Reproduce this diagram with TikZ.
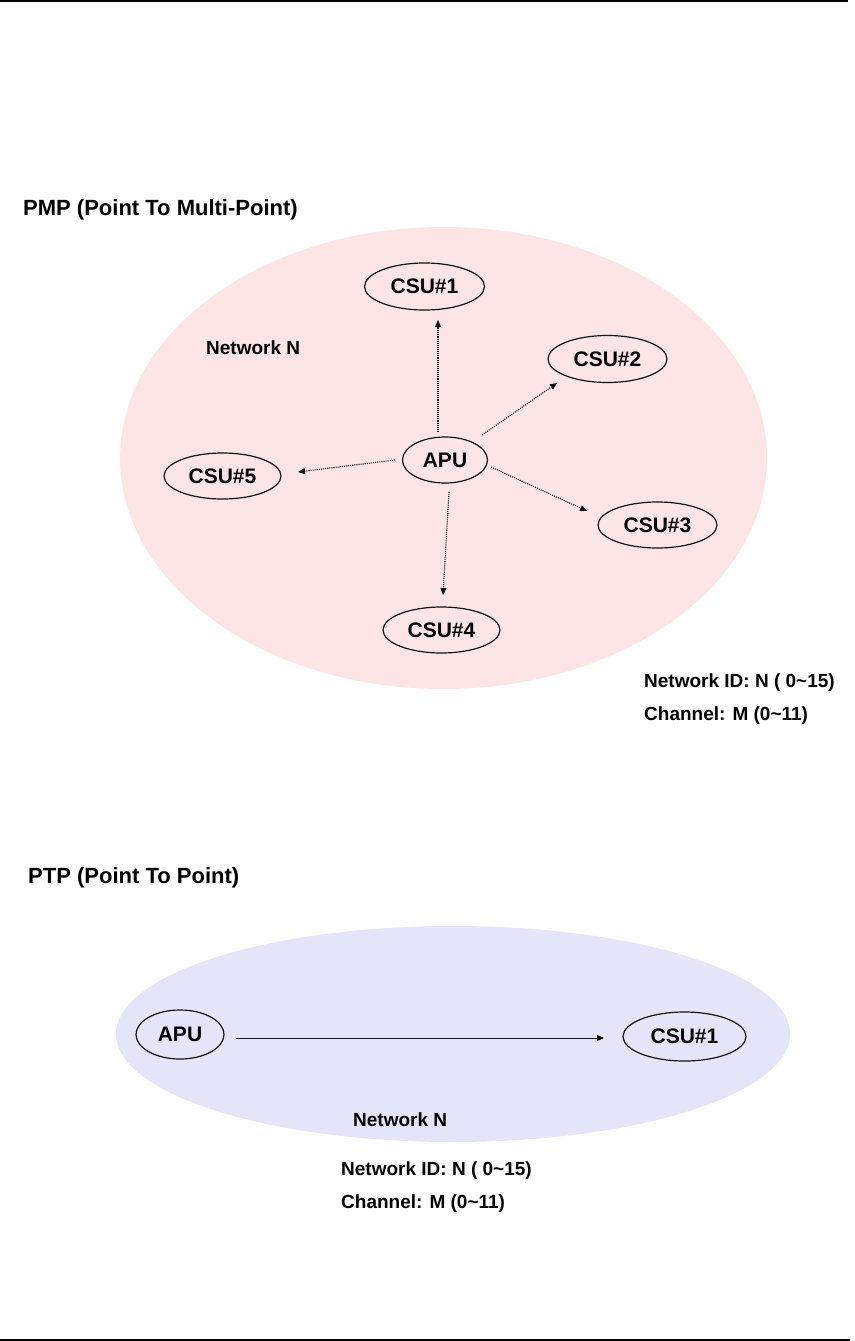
\documentclass[tikz,border=0pt]{standalone}
\usepackage{fontspec}
\setmainfont{Liberation Sans}
\usetikzlibrary{shapes.geometric,arrows.meta}
\definecolor{pinkfill}{RGB}{253,229,229}
\definecolor{bluefill}{RGB}{229,229,250}
\definecolor{inkc}{RGB}{20,20,20}
\tikzset{
  unit/.style={ellipse,draw=inkc,line width=1.2pt,inner sep=0pt,font=\bfseries\fontsize{21}{24}\selectfont},
  big/.style={font=\bfseries\fontsize{22}{26}\selectfont,anchor=base west,inner sep=0pt},
  small/.style={font=\bfseries\fontsize{19}{22}\selectfont,anchor=base west,inner sep=0pt},
  darr/.style={densely dotted,line width=1.1pt,draw=inkc,-{Triangle[length=7pt,width=6pt]}},
  sarr/.style={line width=1pt,draw=inkc,-{Triangle[length=7pt,width=6pt]}},
  rule/.style={line width=2pt,draw=black}
}
\begin{document}
\begin{tikzpicture}[x=1pt,y=-1pt]
\useasboundingbox (0,0) rectangle (854,1341);
% page rules
\coordinate (tl) at (0,1);
\coordinate (tr) at (848,1);
\coordinate (bl) at (0,1340);
\coordinate (br) at (850,1340);
\draw[rule] (tl) -- (tr);
\draw[rule] (bl) -- (br);

% ---------- PMP ----------
\node[big] (pmptitle) at (23,215) {PMP (Point To Multi-Point)};
\fill[pinkfill] (443.5,458) ellipse [x radius=323.5pt, y radius=231pt];
\node[small] (pmpnet) at (206,354) {Network N};

\node[unit,minimum width=120pt,minimum height=47pt] (csu1) at (424.5,286.5) {CSU\#1};
\node[unit,minimum width=119pt,minimum height=47pt] (csu2) at (607.5,359) {CSU\#2};
\node[unit,minimum width=119pt,minimum height=46pt] (csu3) at (657.5,525) {CSU\#3};
\node[unit,minimum width=117pt,minimum height=46pt] (csu4) at (441.5,630) {CSU\#4};
\node[unit,minimum width=117pt,minimum height=46pt] (csu5) at (222.5,476) {CSU\#5};
\node[unit,minimum width=85pt,minimum height=46pt] (apu) at (445,460) {APU};

\draw[darr] ([shift={(-7pt,28pt)}]apu.center) -- ([shift={(13.5pt,-33.5pt)}]csu1.center);
\draw[darr] ([shift={(37pt,25pt)}]apu.center) -- ([shift={(-50.5pt,-24pt)}]csu2.center);
\draw[darr] ([shift={(46pt,-7pt)}]apu.center) -- ([shift={(-70.5pt,14pt)}]csu3.center);
\draw[darr] ([shift={(4pt,-32pt)}]apu.center) -- ([shift={(1.5pt,35pt)}]csu4.center);
\draw[darr] ([shift={(-50pt,0pt)}]apu.center) -- ([shift={(75.5pt,4pt)}]csu5.center);

\node[small] (pmpid) at (644,687) {Network ID: N ( 0\textasciitilde 15)};
\node[small] (pmpch) at (644,720) {Channel: M (0\textasciitilde 11)};

% ---------- PTP ----------
\node[big] (ptptitle) at (28,883) {PTP (Point To Point)};
\fill[bluefill] (453,1034) ellipse [x radius=337pt, y radius=108pt];
\node[unit,minimum width=88pt,minimum height=49pt] (papu) at (180,1034.5) {APU};
\node[unit,minimum width=123pt,minimum height=49pt] (pcsu) at (684.5,1036.5) {CSU\#1};
\draw[sarr] ([shift={(56pt,-3.5pt)}]papu.center) -- ([shift={(-80.5pt,-1.5pt)}]pcsu.center);
\node[small] (ptpnet) at (353,1126) {Network N};
\node[small] (ptpid) at (341,1175) {Network ID: N ( 0\textasciitilde 15)};
\node[small] (ptpch) at (341,1208) {Channel: M (0\textasciitilde 11)};
\end{tikzpicture}
\end{document}
